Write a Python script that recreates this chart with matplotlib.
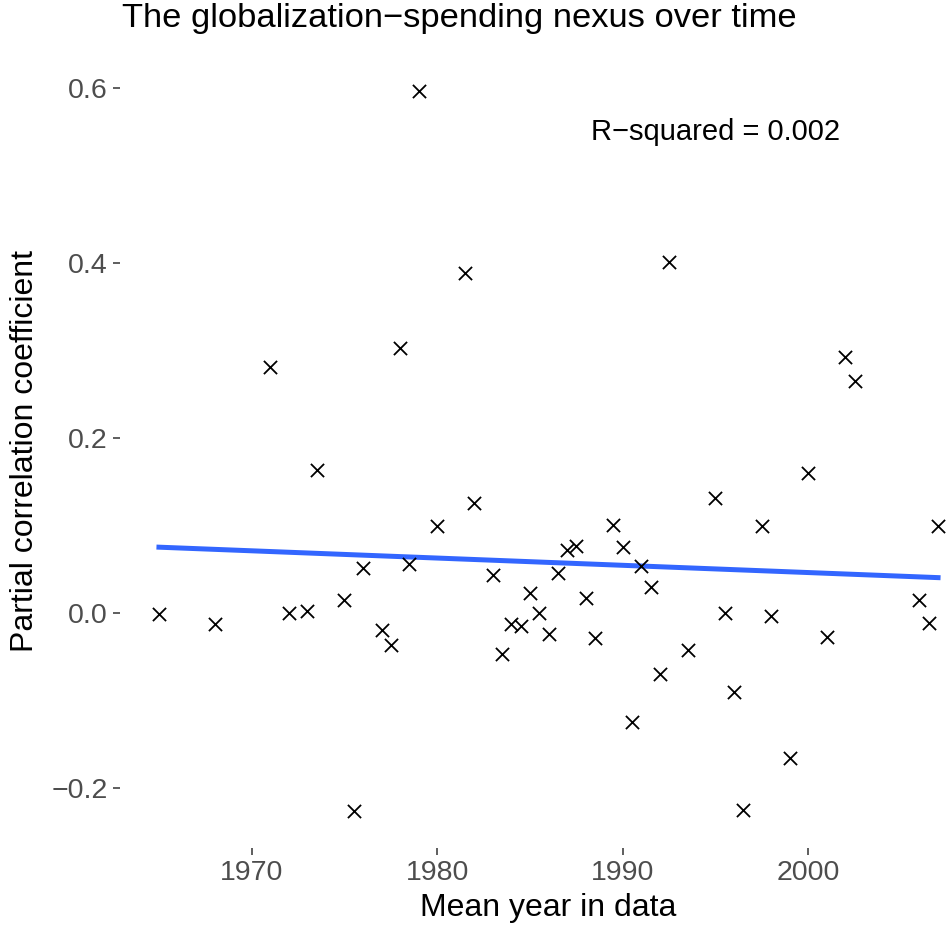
import numpy as np
import matplotlib
matplotlib.use("Agg")
import matplotlib.pyplot as plt

plt.rcParams['font.family'] = ['Liberation Sans', 'DejaVu Sans']

# mean year in data and partial correlation coefficient
mean_year = [1965, 1968, 1971, 1972, 1973, 1973.5, 1975, 1975.5, 1976, 1977,
             1977.5, 1978, 1978.5, 1979, 1980, 1981.5, 1982, 1983, 1983.5, 1984,
             1984.5, 1985, 1985.5, 1986, 1986.5, 1987, 1987.5, 1988, 1988.5, 1989.5,
             1990, 1990.5, 1991, 1991.5, 1992, 1992.5, 1993.5, 1995, 1995.5, 1996,
             1996.5, 1997.5, 1998, 1999, 2000, 2001, 2002, 2002.5, 2006, 2006.5,
             2007]
partial_corr = [-0.001, -0.013, 0.281, 0.0, 0.002, 0.164, 0.015, -0.227, 0.051, -0.019,
                -0.037, 0.303, 0.056, 0.597, 0.100, 0.389, 0.126, 0.043, -0.047, -0.013,
                -0.015, 0.023, 0.0, -0.024, 0.046, 0.072, 0.077, 0.017, -0.029, 0.101,
                0.076, -0.125, 0.054, 0.030, -0.070, 0.401, -0.042, 0.132, 0.0, -0.090,
                -0.225, 0.100, -0.003, -0.166, 0.160, -0.028, 0.293, 0.265, 0.015, -0.012,
                0.100]
y_ticks = [-0.2, 0.0, 0.2, 0.4, 0.6]
x_ticks = [1970, 1980, 1990, 2000]
r2_label = "R\u2212squared = 0.002"

x = np.array(mean_year)
y = np.array(partial_corr)

fig = plt.figure(figsize=(9.46, 9.33), dpi=100)
ax = fig.add_axes([120 / 946, 85.5 / 933, 857 / 946, 792.5 / 933])

ax.scatter(x, y, marker='x', s=90, color='black', linewidths=1.3, zorder=3)

# linear fit
slope, intercept = np.polyfit(x, y, 1)
xs = np.array([x.min(), x.max()])
ax.plot(xs, intercept + slope * xs, color='#3366FF', lw=3.6, zorder=2)

ax.text(1995, 0.55, r2_label, fontsize=21, ha='center', va='center', color='black')

xr = x.max() - x.min()
yr = y.max() - y.min()
ax.set_xlim(x.min() - 0.05 * xr, x.max() + 0.05 * xr)
ax.set_ylim(y.min() - 0.05 * yr, y.max() + 0.05 * yr)

ax.set_xticks(x_ticks)
ax.set_yticks(y_ticks)
ax.set_yticklabels([f"{v:.1f}".replace('-', '\u2212') for v in y_ticks])
ax.tick_params(axis='both', colors='#333333', labelcolor='#4D4D4D',
               labelsize=20.5, length=5, width=1.1, pad=4)

for s in ax.spines.values():
    s.set_visible(False)

ax.set_xlabel("Mean year in data", fontsize=23, labelpad=5)
ax.set_ylabel("Partial correlation coefficient", fontsize=23, labelpad=8)

fig.text(122 / 946, 1 - 19 / 933, "The globalization\u2212spending nexus over time",
         fontsize=24.8, ha='left', va='center')

fig.savefig("out.png", dpi=100)
